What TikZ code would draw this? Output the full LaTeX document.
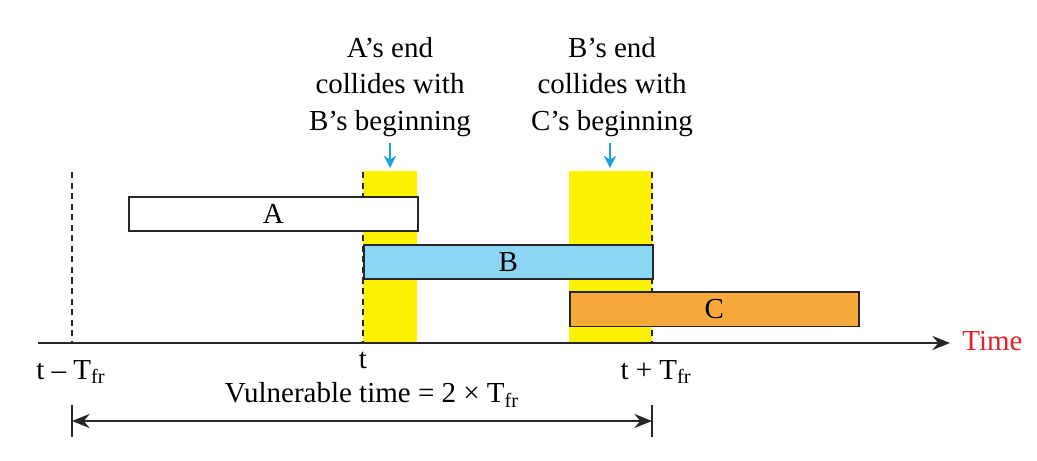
\documentclass[tikz,border=0pt]{standalone}
\usepackage{fontspec}
\setmainfont{Liberation Serif}
\usetikzlibrary{arrows.meta,positioning}
\definecolor{myyellow}{HTML}{FFF200}
\definecolor{mylightblue}{HTML}{8DD5F4}
\definecolor{myorange}{HTML}{F7A93B}
\definecolor{myarrowblue}{HTML}{1BA3E1}
\definecolor{myred}{HTML}{E2202C}

\begin{document}
\begin{tikzpicture}[x=0.02cm,y=-0.02cm]
	\tikzset{% styles for the frames and lines
		framebox/.style={draw=black!85,line width=0.9pt,minimum width=5.78cm,minimum height=0.69cm,anchor=north west,inner sep=0pt},
		dashline/.style={black!85,line width=0.8pt,dash pattern=on 3.5pt off 2.5pt},
		bluearrow/.style={-{Stealth[length=7pt,width=7pt]},myarrowblue,line width=1.1pt},
		txt/.style={font=\fontsize{16.5}{21}\selectfont,inner sep=0pt}}
	\useasboundingbox (0,0) rectangle (1037,460);
	% collision windows
	\fill[myyellow] (363,171) rectangle (417,343);
	\fill[myyellow] (569,171) rectangle (652,343);
	% frame boundaries
	\coordinate (ltop) at (72,172);
	\coordinate (lbot) at (72,343);
	\coordinate (mtop) at (363,172);
	\coordinate (mbot) at (363,343);
	\coordinate (rtop) at (652,172);
	\coordinate (rbot) at (652,343);
	\draw[dashline] (ltop) -- (lbot);
	\draw[dashline] (mtop) -- (mbot);
	\draw[dashline] (rtop) -- (rbot);
	% frames
	\node[framebox,txt,fill=white] (A) at (128,196) {A};
	\node[framebox,txt,fill=mylightblue] (B) at (363,244) {B};
	\node[framebox,txt,fill=myorange] (C) at (569,291) {C};
	% time axis
	\coordinate (origin) at (38,343);
	\coordinate (tip) at (950,343);
	\draw[-{Stealth[length=10pt,width=8pt]},black!85,line width=1.1pt] (origin) -- (tip);
	\node[txt,myred,anchor=west] (time) at (962,341) {Time};
	\node[txt] (tminus) at (71,372) {t – T\textsubscript{fr}};
	\node[txt] (tzero) at (363,360) {t};
	\node[txt] (tplus) at (656,372) {t + T\textsubscript{fr}};
	% notes
	\node[txt,align=center] (noteA) at (390,87) {A’s end\\collides with\\B’s beginning};
	\node[txt,align=center] (noteB) at (612,87) {B’s end\\collides with\\C’s beginning};
	\coordinate (hitA) at (390,168);
	\coordinate (hitB) at (610,168);
	\draw[bluearrow] ([yshift=-3pt]noteA.south) -- (hitA);
	\draw[bluearrow] ([yshift=-3pt]noteB.south -| hitB) -- (hitB);
	% vulnerable time
	\node[txt] (vuln) at (372,395) {Vulnerable time = 2 × T\textsubscript{fr}};
	\coordinate (vl) at (72,421);
	\coordinate (vr) at (652,421);
	\draw[{Stealth[length=10pt,width=8pt]}-{Stealth[length=10pt,width=8pt]},black!85,line width=0.9pt] (vl) -- (vr);
	\draw[black!85,line width=0.8pt] ([yshift=9pt]vl) -- ([yshift=-9pt]vl);
	\draw[black!85,line width=0.8pt] ([yshift=9pt]vr) -- ([yshift=-9pt]vr);
\end{tikzpicture}
\end{document}
